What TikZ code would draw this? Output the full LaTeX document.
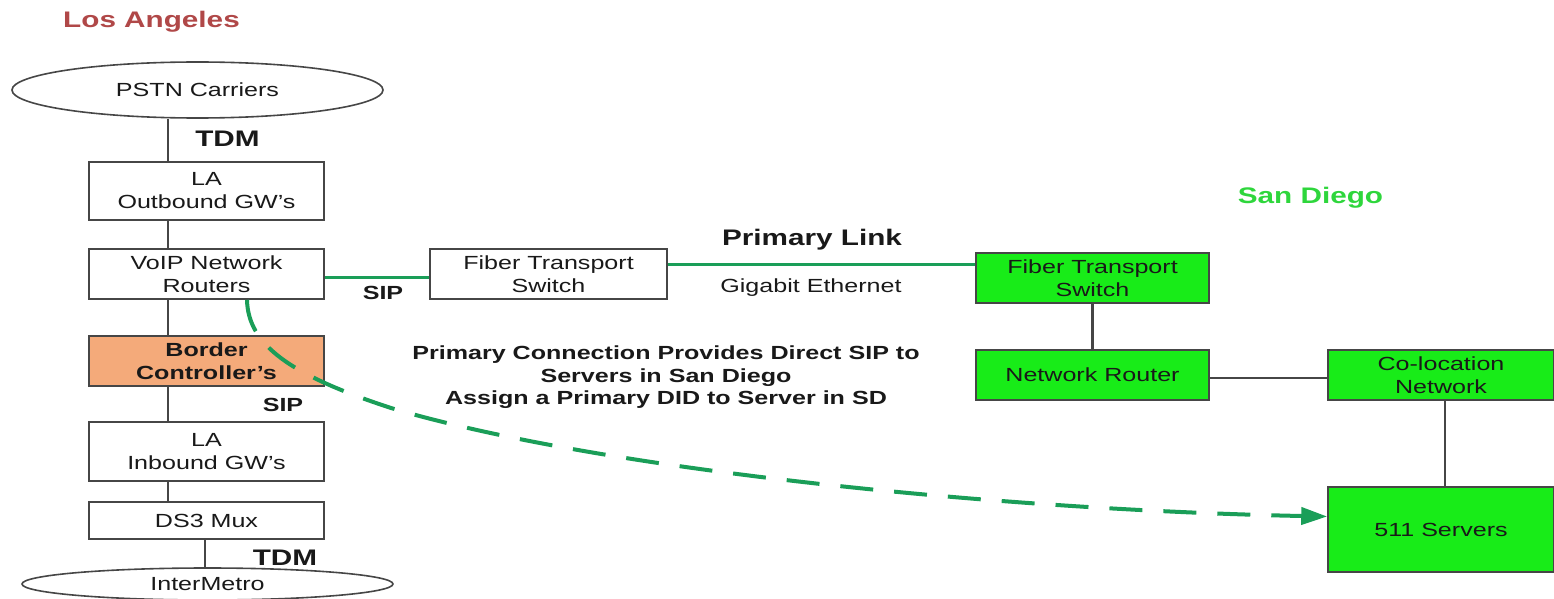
\documentclass[tikz,border=0pt]{standalone}
\usepackage{fontspec}
\setmainfont{Liberation Sans}[FakeStretch=1.32]
\usetikzlibrary{shapes.geometric,arrows.meta}
\definecolor{boxgreen}{RGB}{24,236,24}
\definecolor{linkgreen}{RGB}{26,158,88}
\definecolor{laRed}{RGB}{176,72,72}
\definecolor{sdGreen}{RGB}{46,214,60}
\definecolor{bcOrange}{RGB}{244,170,122}
\definecolor{edgegray}{RGB}{70,70,70}
\definecolor{ink}{RGB}{25,25,25}
\newcommand\dgBoxFont{\fontsize{19}{23}\selectfont}
\newcommand\dgLblFont{\bfseries\fontsize{19}{22.5}\selectfont}
\newcommand\dgBigFont{\bfseries\fontsize{22.5}{26}\selectfont}
\begin{document}
\begin{tikzpicture}[x=1pt,y=-1pt,
  box/.style={draw=edgegray, line width=1.6pt, fill=white, rectangle, inner sep=0pt, align=center, text=ink, font=\dgBoxFont},
  sdbox/.style={box, fill=boxgreen},
  oval/.style={draw=edgegray, line width=1.6pt, ellipse, inner sep=0pt, text=ink, font=\dgBoxFont},
  conn/.style={draw=edgegray, line width=2.2pt},
  glink/.style={draw=linkgreen, line width=3pt},
  garrow/.style={draw=linkgreen, line width=4pt, dash pattern=on 33pt off 21pt, -{Triangle[length=26pt,width=17pt]}},
  lbl/.style={font=\dgLblFont, text=ink, inner sep=0pt},
  biglbl/.style={font=\dgBigFont, text=ink, inner sep=0pt}
]
\useasboundingbox (0,0) rectangle (1554,599);

% titles
\node[biglbl, text=laRed] (la) at (151.5,22) {Los Angeles};
\node[biglbl, text=sdGreen] (sd) at (1310.5,198) {San Diego};

% Los Angeles column
\node[oval, minimum width=371pt, minimum height=56pt] (pstn) at (197.5,90) {PSTN Carriers};
\node[box, minimum width=235pt, minimum height=58pt] (outgw) at (206.5,191) {LA\\Outbound GW's};
\node[box, minimum width=235pt, minimum height=50pt] (voip) at (206.5,274) {VoIP Network\\Routers};
\node[box, fill=bcOrange, font=\dgBoxFont\bfseries, minimum width=235pt, minimum height=50pt] (border) at (206.5,361) {Border\\Controller's};
\node[box, minimum width=235pt, minimum height=59pt] (ingw) at (206.5,451.5) {LA\\Inbound GW's};
\node[box, minimum width=235pt, minimum height=37pt] (ds3) at (206.5,520.5) {DS3 Mux};
\node[oval, minimum width=371pt, minimum height=32pt] (inter) at (207.5,584) {InterMetro};

% middle and San Diego
\node[box, minimum width=237pt, minimum height=50pt] (fts1) at (548.5,274) {Fiber Transport\\Switch};
\node[sdbox, minimum width=233pt, minimum height=50pt] (fts2) at (1092.5,278) {Fiber Transport\\Switch};
\node[sdbox, minimum width=233pt, minimum height=50pt] (router) at (1092.5,375) {Network Router};
\node[sdbox, minimum width=226pt, minimum height=50pt] (coloc) at (1441,375) {Co-location\\Network};
\node[sdbox, minimum width=226pt, minimum height=85pt] (servers) at (1441,529.5) {511 Servers};

% labels
\node[biglbl] (tdm1) at (227.5,139) {TDM};
\node[biglbl] (tdm2) at (285,558) {TDM};
\node[lbl] (sip1) at (383,293) {SIP};
\node[lbl] (sip2) at (283,405) {SIP};
\node[biglbl] (plink) at (812,240) {Primary Link};
\node[font=\dgBoxFont, text=ink, inner sep=0pt] (gige) at (811,288) {Gigabit Ethernet};
\node[lbl, align=center] (note) at (666,377.5) {Primary Connection Provides Direct SIP to\\Servers in San Diego\\Assign a Primary DID to Server in SD};

% vertical connectors
\coordinate (lx) at (168,0);
\draw[conn] (pstn.south -| lx) -- (outgw.north -| lx);
\draw[conn] (outgw.south -| lx) -- (voip.north -| lx);
\draw[conn] (voip.south -| lx) -- (border.north -| lx);
\draw[conn] (border.south -| lx) -- (ingw.north -| lx);
\draw[conn] (ingw.south -| lx) -- (ds3.north -| lx);
\draw[conn] ([xshift=-1.5pt]ds3.south) -- ([xshift=-1.5pt]ds3.south |- inter.north);
\draw[conn] (fts2.south) -- (router.north);
\draw[conn] ([yshift=-3pt]router.east) -- ([yshift=-3pt]router.east -| coloc.west);
\draw[conn] ([xshift=4pt]coloc.south) -- ([xshift=4pt]servers.north);

% green links
\draw[glink] ([yshift=-3pt]voip.east) -- ([yshift=-3pt]voip.east -| fts1.west);
\draw[glink] ([yshift=10pt]fts1.east) -- ([yshift=10pt]fts1.east -| fts2.west);

% dashed primary connection
\draw[garrow] ([xshift=40.5pt]voip.south) .. controls (248,345) and (290,375) .. (391,408)
  .. controls (600,470) and (1000,510) .. ([yshift=13pt]servers.west);
\end{tikzpicture}
\end{document}
